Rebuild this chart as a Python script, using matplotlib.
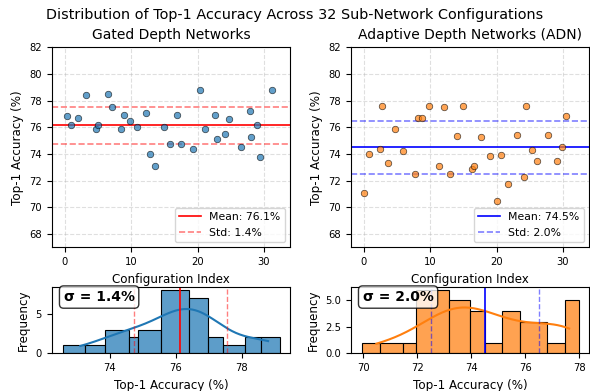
import matplotlib
matplotlib.use("Agg")
import matplotlib.pyplot as plt
import seaborn as sns
import numpy as np

# --- data ---
x_gated = [0.35, 0.85, 1.95, 3.15, 4.65, 4.95, 6.45, 7.05, 8.5, 8.85, 9.8, 10.9,
           12.15, 12.75, 13.6, 15.0, 15.8, 16.85, 17.55, 19.25, 20.3, 21.05, 22.6, 22.95,
           24.2, 24.8, 26.55, 27.95, 28.0, 28.9, 29.35, 31.25]
acc_gated = [76.85, 76.15, 76.7, 78.4, 75.9, 76.2, 78.5, 77.55, 75.85, 76.9, 76.45, 76.0,
             77.1, 74.0, 73.1, 76.0, 74.75, 76.9, 74.75, 74.4, 78.8, 75.9, 76.95, 75.1,
             75.5, 76.6, 74.5, 77.2, 75.25, 76.15, 73.8, 78.8]

x_adn = [-0.05, 0.75, 2.35, 2.75, 3.65, 4.7, 5.95, 7.7, 8.1, 8.8, 9.8, 11.25,
         12.05, 13.0, 14.1, 14.9, 16.35, 16.55, 17.65, 19.0, 20.05, 20.65, 21.7, 23.05,
         24.15, 24.45, 25.4, 26.15, 27.75, 29.15, 29.8, 30.45]
acc_adn = [71.1, 73.98, 74.35, 77.63, 73.3, 75.88, 74.2, 72.48, 76.68, 76.7, 77.58, 73.1,
           77.55, 72.48, 75.38, 77.63, 72.9, 73.08, 75.25, 73.88, 70.48, 73.93, 71.75, 75.45,
           72.3, 77.58, 74.33, 73.48, 75.45, 73.45, 74.55, 76.85]

mean_gated, std_gated = 76.14, 1.4
mean_adn, std_adn = 74.5, 2.0

bins_gated = [72.56, 73.24, 73.84, 74.57, 74.84, 75.55, 76.41, 76.98, 77.44, 78.11, 78.58, 79.15]
bins_adn = [69.93, 70.63, 71.47, 71.96, 73.18, 73.95, 74.51, 75.15, 75.81, 76.82, 77.47, 77.98]

TICK = 7.2
LAB = 8.6

fig = plt.figure(figsize=(5.9, 3.91), dpi=100)
ax1 = fig.add_axes([0.0876, 0.3675, 0.4047, 0.5115])
ax2 = fig.add_axes([0.5944, 0.3675, 0.4047, 0.5115])
ax3 = fig.add_axes([0.0876, 0.0964, 0.4047, 0.1703])
ax4 = fig.add_axes([0.5944, 0.0964, 0.4047, 0.1703])


def scatter_panel(ax, x, y, color, line_color, mean, std, title):
	ax.scatter(x, y, s=22, c=color, alpha=0.7, edgecolors='black', linewidths=0.5, zorder=3)
	ax.axhline(mean, color=line_color, lw=1.2, label=f'Mean: {mean:.1f}%')
	ax.axhline(mean + std, color=line_color, ls='--', lw=1.2, alpha=0.5, label=f'Std: {std:.1f}%')
	ax.axhline(mean - std, color=line_color, ls='--', lw=1.2, alpha=0.5)
	ax.set_xlim(-2, 34)
	ax.set_ylim(67, 82)
	ax.set_yticks(np.arange(68, 83, 2))
	ax.set_xticks([0, 10, 20, 30])
	ax.grid(True, linestyle='--', alpha=0.4)
	ax.set_title(title, fontsize=10)
	ax.set_xlabel('Configuration Index', fontsize=LAB)
	ax.set_ylabel('Top-1 Accuracy (%)', fontsize=LAB)
	ax.tick_params(labelsize=TICK)
	ax.legend(loc='lower right', fontsize=7.8)


def hist_panel(ax, y, bins, color, line_color, mean, std):
	sns.histplot(y, bins=bins, kde=True, color=color, alpha=0.72,
	             edgecolor='black', linewidth=0.8, ax=ax)
	ax.axvline(mean, color=line_color, lw=1.2)
	ax.axvline(mean + std, color=line_color, ls='--', lw=1, alpha=0.5)
	ax.axvline(mean - std, color=line_color, ls='--', lw=1, alpha=0.5)
	ax.set_xlabel('Top-1 Accuracy (%)', fontsize=LAB)
	ax.set_ylabel('Frequency', fontsize=LAB)
	ax.tick_params(labelsize=TICK)
	ax.text(0.05, 0.95, f'σ = {std:.1f}%', transform=ax.transAxes, fontsize=10,
	        fontweight='bold', va='top',
	        bbox=dict(boxstyle='round', facecolor='white', alpha=0.8))


scatter_panel(ax1, x_gated, acc_gated, 'C0', 'red', mean_gated, std_gated,
              'Gated Depth Networks')
scatter_panel(ax2, x_adn, acc_adn, 'C1', 'blue', mean_adn, std_adn,
              'Adaptive Depth Networks (ADN)')
hist_panel(ax3, acc_gated, bins_gated, 'C0', 'red', mean_gated, std_gated)
hist_panel(ax4, acc_adn, bins_adn, 'C1', 'blue', mean_adn, std_adn)

fig.text(0.5, 1 - 19.5 / 391,
         'Distribution of Top-1 Accuracy Across 32 Sub-Network Configurations',
         ha='center', va='baseline', fontsize=10.4)

fig.savefig('out.png', dpi=100)
